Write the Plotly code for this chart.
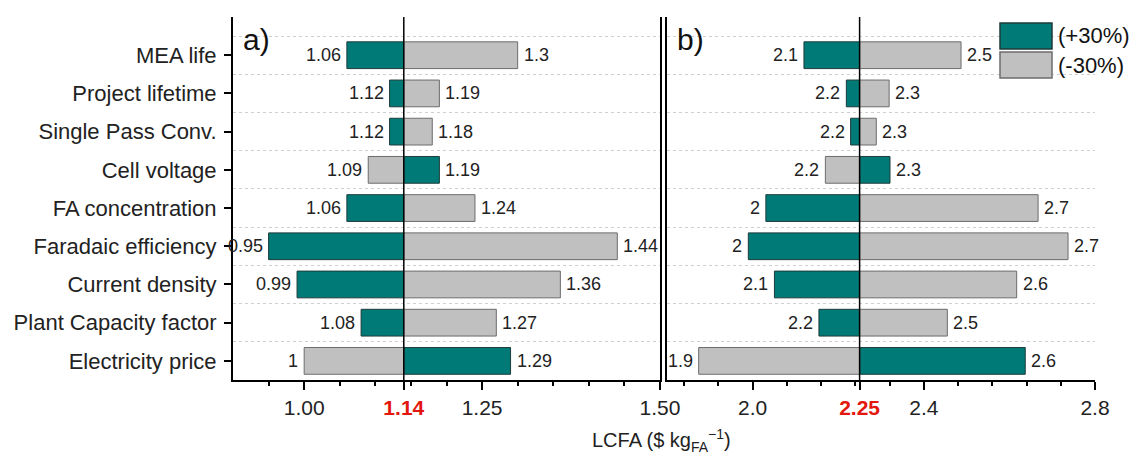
import plotly.graph_objects as go

# ---------------- data (bottom to top) ----------------
categories = ["Electricity price", "Plant Capacity factor", "Current density",
              "Faradaic efficiency", "FA concentration", "Cell voltage",
              "Single Pass Conv.", "Project lifetime", "MEA life"]
series_names = ["(+30%)", "(-30%)"]

base_a = 1.14
plus_a = [1.29, 1.08, 0.99, 0.95, 1.06, 1.19, 1.12, 1.12, 1.06]
minus_a = [1.00, 1.27, 1.36, 1.44, 1.24, 1.09, 1.18, 1.19, 1.30]

base_b = 2.25
plus_b = [2.637, 2.155, 2.051, 1.990, 2.031, 2.321, 2.229, 2.219, 2.120]
minus_b = [1.874, 2.455, 2.617, 2.737, 2.667, 2.170, 2.289, 2.319, 2.487]

ticks_a = [1.00, 1.14, 1.25, 1.50]
ticklabels_a = ["1.00", "1.14", "1.25", "1.50"]
minor_a = [0.95, 1.05, 1.10, 1.15, 1.20, 1.30, 1.35, 1.40, 1.45]
ticks_b = [2.0, 2.25, 2.4, 2.8]
ticklabels_b = ["2.0", "2.25", "2.4", "2.8"]
minor_b = [1.84, 1.92, 2.08, 2.16, 2.24, 2.32, 2.48, 2.56, 2.64, 2.72]

# ---------------- style ----------------
FONT = "Liberation Sans, Arial, sans-serif"
TEAL = "#007a76"
TEAL_LINE = "#1d3b3a"
GREY = "#c0c0c0"
GREY_LINE = "#6c6c6c"
RED = "#e3170d"
W, H = 1136, 459

ypos = list(range(len(categories)))

fig = go.Figure()


def add_panel(xref, yref, base, plus, minus, ndec):
    for vals, name, col, lcol in ((plus, series_names[0], TEAL, TEAL_LINE),
                                  (minus, series_names[1], GREY, GREY_LINE)):
        fig.add_trace(go.Bar(
            y=ypos, x=[v - base for v in vals], base=base, orientation="h",
            name=name, marker=dict(color=col, line=dict(color=lcol, width=1)),
            width=0.7, xaxis=xref, yaxis=yref, showlegend=False,
            hoverinfo="skip"))
        for yi, v in zip(ypos, vals):
            right = v >= base
            fig.add_annotation(
                x=v, y=yi, xref=xref, yref=yref,
                text=f"{round(v, ndec):g}", showarrow=False,
                xanchor="left" if right else "right", yanchor="middle",
                xshift=4 if right else -4,
                font=dict(family=FONT, size=18, color="#222"))
    # centre line at base value
    fig.add_shape(type="line", xref=xref, yref=yref + " domain",
                  x0=base, x1=base, y0=0, y1=1,
                  line=dict(color="black", width=1.5), layer="above")


add_panel("x", "y", base_a, plus_a, minus_a, 2)
add_panel("x2", "y2", base_b, plus_b, minus_b, 1)


def red_label(lbls, center_lbl):
    return [f'<b><span style="color:{RED}">{t}</span></b>' if t == center_lbl else t
            for t in lbls]


xdom_a = [233 / W, 660 / W]
xdom_b = [667 / W, 1095 / W]
ydom = [1 - 380 / H, 1 - 17 / H]

common_x = dict(ticks="outside", ticklen=8, tickwidth=1.5, tickcolor="black",
                showline=True, linewidth=2, linecolor="black", showgrid=False,
                zeroline=False, tickfont=dict(family=FONT, size=21, color="#222"),
                ticklabelstandoff=0, automargin=False)
minor_grid = dict(tickmode="array", tickvals=[i + 0.5 for i in ypos],
                  showgrid=True, gridcolor="#cfcfcf", griddash="dot",
                  gridwidth=1, ticks="")

fig.update_layout(
    width=W, height=H, margin=dict(l=0, r=0, t=0, b=0),
    paper_bgcolor="white", plot_bgcolor="white", barmode="overlay",
    showlegend=False, template="none",
    xaxis=dict(domain=xdom_a, range=[0.9, 1.5], anchor="y",
               tickmode="array", tickvals=ticks_a,
               ticktext=red_label(ticklabels_a, "1.14"),
               minor=dict(tickmode="array", tickvals=minor_a, ticks="outside",
                          ticklen=4, tickcolor="black", tickwidth=1.5, showgrid=False),
               **common_x),
    xaxis2=dict(domain=xdom_b, range=[1.8, 2.8], anchor="y2",
                tickmode="array", tickvals=ticks_b,
                ticktext=red_label(ticklabels_b, "2.25"),
                minor=dict(tickmode="array", tickvals=minor_b, ticks="outside",
                           ticklen=4, tickcolor="black", tickwidth=1.5, showgrid=False),
                **common_x),
    yaxis=dict(domain=ydom, range=[-0.5, 9], anchor="x",
               tickmode="array", tickvals=ypos, ticktext=categories,
               ticks="outside", ticklen=7, tickwidth=1.5, tickcolor="black",
               showline=True, linewidth=2, linecolor="black", mirror=True,
               showgrid=False, zeroline=False, ticklabelstandoff=3,
               tickfont=dict(family=FONT, size=22, color="#222"),
               minor=minor_grid, automargin=False),
    yaxis2=dict(domain=ydom, range=[-0.5, 9], anchor="x2",
                showticklabels=False, ticks="", showline=True, linewidth=2,
                linecolor="black", mirror=False, showgrid=False, zeroline=False,
                minor=minor_grid, automargin=False),
)

# panel letters
for dom, letter in ((xdom_a, "a)"), (xdom_b, "b)")):
    fig.add_annotation(x=dom[0], y=ydom[1], xref="paper", yref="paper",
                       text=letter, showarrow=False, xanchor="left", yanchor="top",
                       xshift=8, yshift=-4, font=dict(family=FONT, size=30, color="#111"))

# x title
fig.add_annotation(x=661 / W, y=1 - 440 / H,
                   xref="paper", yref="paper", showarrow=False,
                   xanchor="center", yanchor="middle",
                   text="LCFA ($ kg<sub>FA</sub><sup>\u22121</sup>)",
                   font=dict(family=FONT, size=20, color="#222"))

# legend (drawn manually for large swatches)
leg_items = [(series_names[0], TEAL, TEAL_LINE, 23, 49),
             (series_names[1], GREY, GREY_LINE, 52, 78)]
for name, col, lcol, top, bot in leg_items:
    fig.add_shape(type="rect", xref="paper", yref="paper",
                  x0=1000 / W, x1=1052 / W, y0=1 - bot / H, y1=1 - top / H,
                  fillcolor=col, line=dict(color=lcol, width=1.5))
    fig.add_annotation(x=1056 / W, y=1 - (top + bot) / 2 / H, xref="paper",
                       yref="paper", text=name, showarrow=False,
                       xanchor="left", yanchor="middle",
                       font=dict(family=FONT, size=22, color="#111"))

fig.write_html("out.html")
